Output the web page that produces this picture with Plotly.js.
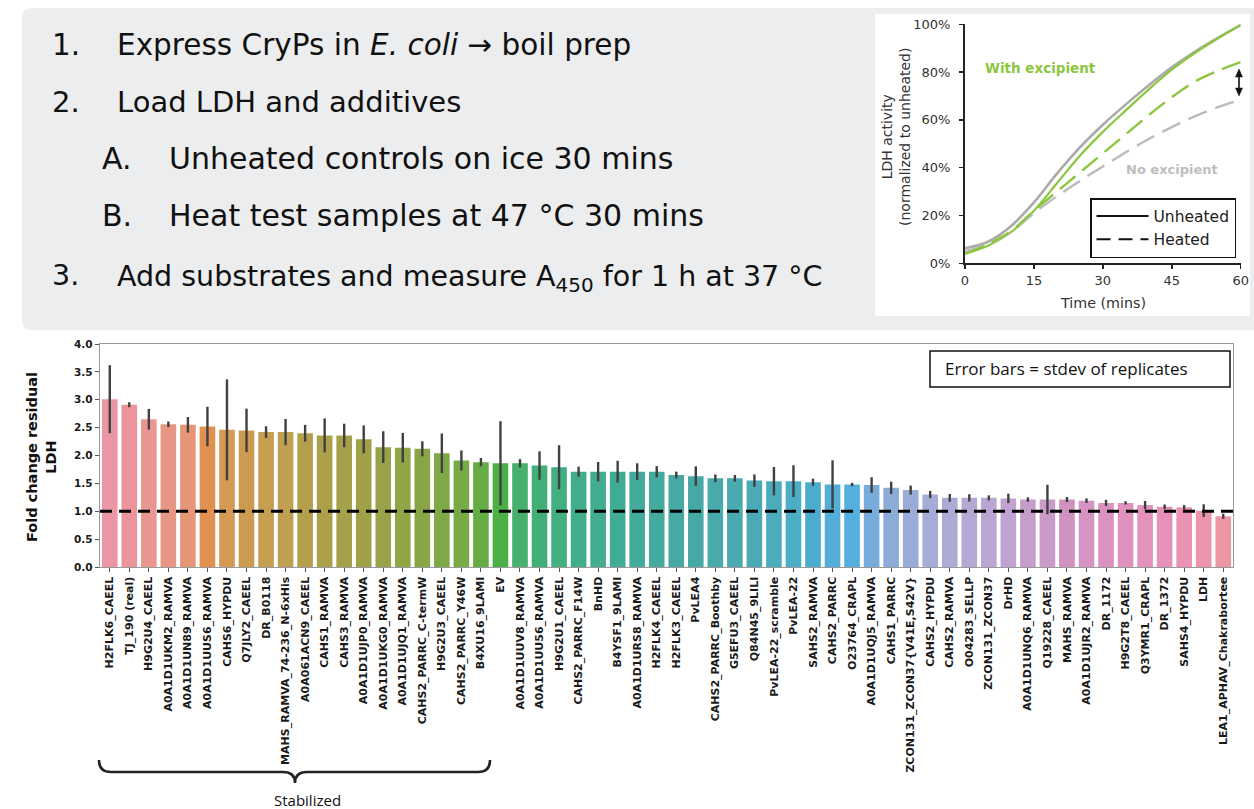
<!DOCTYPE html>
<html><head><meta charset="utf-8">
<script src="https://cdn.plot.ly/plotly-3.0.1.min.js"></script>
<style>html,body{margin:0;padding:0;background:#fff;overflow:hidden}#chart{width:1254px;height:809px}</style>
</head><body><div id="chart"></div>
<script>
// ---------------- data ----------------
const categories = ["H2FLK6_CAEEL","TJ_190 (real)","H9G2U4_CAEEL","A0A1D1UKM2_RAMVA","A0A1D1UN89_RAMVA","A0A1D1UUS6_RAMVA","CAHS6_HYPDU","Q7JLY2_CAEEL","DR_B0118","MAHS_RAMVA_74-236_N-6xHis","A0A061ACN9_CAEEL","CAHS1_RAMVA","CAHS3_RAMVA","A0A1D1UJP0_RAMVA","A0A1D1UKG0_RAMVA","A0A1D1UJQ1_RAMVA","CAHS2_PARRC_C-termW","H9G2U3_CAEEL","CAHS2_PARRC_Y46W","B4XU16_9LAMI","EV","A0A1D1UUV8_RAMVA","A0A1D1UU56_RAMVA","H9G2U1_CAEEL","CAHS2_PARRC_F14W","BnHD","B4YSF1_9LAMI","A0A1D1URS8_RAMVA","H2FLK4_CAEEL","H2FLK3_CAEEL","PvLEA4","CAHS2_PARRC_Boothby","G5EFU3_CAEEL","Q84N45_9LILI","PvLEA-22_scramble","PvLEA-22","SAHS2_RAMVA","CAHS2_PARRC","O23764_CRAPL","A0A1D1UQJ5_RAMVA","CAHS1_PARRC","ZCON131_ZCON37{V41E,S42V}","CAHS2_HYPDU","CAHS2_RAMVA","O04283_SELLP","ZCON131_ZCON37","DrHD","A0A1D1UNQ6_RAMVA","Q19228_CAEEL","MAHS_RAMVA","A0A1D1UJR2_RAMVA","DR_1172","H9G2T8_CAEEL","Q3YMR1_CRAPL","DR_1372","SAHS4_HYPDU","LDH","LEA1_APHAV_Chakrabortee"];
const foldChange = [3.01,2.91,2.65,2.56,2.55,2.52,2.46,2.45,2.42,2.42,2.40,2.36,2.36,2.29,2.15,2.14,2.12,2.04,1.91,1.88,1.86,1.86,1.82,1.79,1.71,1.71,1.71,1.71,1.71,1.65,1.63,1.59,1.59,1.55,1.54,1.54,1.52,1.48,1.48,1.47,1.42,1.38,1.30,1.24,1.24,1.24,1.23,1.21,1.21,1.21,1.19,1.15,1.15,1.11,1.08,1.07,1.01,0.91];
const stdevReplicates = [0.61,0.045,0.185,0.05,0.14,0.355,0.905,0.39,0.105,0.235,0.15,0.305,0.21,0.25,0.285,0.265,0.135,0.355,0.18,0.075,0.755,0.075,0.255,0.395,0.09,0.175,0.195,0.15,0.10,0.06,0.175,0.07,0.06,0.11,0.255,0.285,0.065,0.435,0.03,0.14,0.11,0.08,0.065,0.07,0.065,0.045,0.085,0.04,0.265,0.045,0.04,0.055,0.03,0.075,0.04,0.04,0.115,0.045];
const baselineFold = 1.0;
const yTicksFold = [0,0.5,1,1.5,2,2.5,3,3.5,4];

const timeMins = [0,5,10,15,20,25,30,35,40,45,50,55,60];
const unheatedNoExcipient   = [0.063,0.090,0.155,0.255,0.375,0.485,0.580,0.665,0.745,0.820,0.885,0.943,0.997];
const unheatedWithExcipient = [0.040,0.073,0.130,0.220,0.335,0.450,0.550,0.640,0.728,0.810,0.880,0.940,0.997];
const heatedWithExcipient   = [0.040,0.080,0.135,0.220,0.300,0.380,0.460,0.540,0.620,0.695,0.760,0.805,0.842];
const heatedNoExcipient     = [0.050,0.080,0.130,0.210,0.280,0.345,0.405,0.465,0.520,0.570,0.615,0.653,0.685];
const timeTicks = [0,15,30,45,60];
const pctTicks = [0,0.2,0.4,0.6,0.8,1.0];

const slideSteps = [
  ["1.", "Express CryPs in <i>E. coli</i> \u2192 boil prep", 0],
  ["2.", "Load LDH and additives", 0],
  ["A.", "Unheated controls on ice 30 mins", 1],
  ["B.", "Heat test samples at 47 \u00b0C 30 mins", 1],
  ["3.", "Add substrates and measure A<sub>450</sub> for 1 h at 37 \u00b0C", 0]
];

// ---------------- styles ----------------
const barColors = ["rgb(235,150,165)","rgb(235,148,155)","rgb(233,150,145)","rgb(232,150,132)","rgb(230,150,118)","rgb(225,145,80)","rgb(212,153,82)","rgb(205,155,80)","rgb(197,158,80)","rgb(190,160,80)","rgb(180,160,76)","rgb(172,160,75)","rgb(165,160,74)","rgb(160,160,72)","rgb(153,162,72)","rgb(145,164,70)","rgb(137,166,70)","rgb(127,169,70)","rgb(118,171,70)","rgb(100,172,68)","rgb(75,176,70)","rgb(70,176,108)","rgb(66,175,120)","rgb(65,175,130)","rgb(65,173,138)","rgb(65,172,144)","rgb(65,172,150)","rgb(66,171,155)","rgb(68,170,158)","rgb(70,170,162)","rgb(71,169,166)","rgb(72,170,170)","rgb(73,170,176)","rgb(74,171,182)","rgb(75,172,190)","rgb(76,173,198)","rgb(76,172,205)","rgb(82,174,216)","rgb(85,175,222)","rgb(120,172,218)","rgb(140,172,216)","rgb(152,172,215)","rgb(165,172,215)","rgb(174,170,214)","rgb(180,168,212)","rgb(186,166,210)","rgb(192,163,208)","rgb(197,158,204)","rgb(202,154,200)","rgb(207,145,192)","rgb(213,148,195)","rgb(219,146,192)","rgb(224,145,190)","rgb(228,145,188)","rgb(231,145,184)","rgb(234,146,178)","rgb(235,148,170)","rgb(235,150,162)"];

// ---------------- helpers (page pixel -> paper) ----------------
const W=1254,H=809;
const px=x=>x/W, py=y=>1-y/H;
const P=(x,y)=>px(x).toFixed(5)+','+py(y).toFixed(5);

// ---------------- traces ----------------
const bars = {
  type:'bar', x:categories, y:foldChange, xaxis:'x', yaxis:'y',
  marker:{color:barColors, line:{width:0}},
  error_y:{type:'data', array:stdevReplicates, visible:true, color:'#404040', thickness:2.4, width:0},
  showlegend:false, hoverinfo:'x+y'
};
const gray='#aaaaaa', green='#8cc63f';
const lineBase = {type:'scatter', mode:'lines', xaxis:'x2', yaxis:'y2', showlegend:false, cliponaxis:false, x:timeMins};
const tr1 = Object.assign({}, lineBase, {y:unheatedNoExcipient, line:{color:gray,width:2.6,shape:'spline'}});
const tr2 = Object.assign({}, lineBase, {y:unheatedWithExcipient, line:{color:green,width:2.2,shape:'spline'}});
const tr3 = Object.assign({}, lineBase, {y:heatedNoExcipient, line:{color:'#bbbbbb',width:2.4,shape:'spline',dash:'20px,9px'}});
const tr4 = Object.assign({}, lineBase, {y:heatedWithExcipient, line:{color:green,width:2.4,shape:'spline',dash:'20px,9px'}});
const lg1 = {type:'scatter', mode:'lines', x:[null], y:[null], xaxis:'x2', yaxis:'y2', name:'Unheated', line:{color:'#111',width:2}, showlegend:true};
const lg2 = {type:'scatter', mode:'lines', x:[null], y:[null], xaxis:'x2', yaxis:'y2', name:'Heated', line:{color:'#111',width:2,dash:'14px,8px'}, showlegend:true};

// ---------------- annotations ----------------
const lineY=[45,102,159,216,275];
const lineSize=[29.5,29,30,30,28.5];
const ann=[];
function A(o){ann.push(Object.assign({xref:'paper',yref:'paper',showarrow:false,xanchor:'center',yanchor:'middle'},o));}
slideSteps.forEach((s,i)=>{
  const ind=s[2];
  const sub = s[1].indexOf('<sub>')>=0 ? 3 : 0;
  const f = {family:'DejaVu Sans, Verdana, sans-serif', size:lineSize[i], color:'#111'};
  A({x:px(ind?100:50),y:py(lineY[i]),xanchor:'left',text:s[0],font:f});
  A({x:px(ind?167:115),y:py(lineY[i]+sub),xanchor:'left',text:s[1],font:f});
});
// inset labels
A({x:px(1040),y:py(68),text:'<b>With excipient</b>',font:{family:'DejaVu Sans',size:13.5,color:green}});
A({x:px(1172),y:py(170),text:'<b>No excipient</b>',font:{family:'DejaVu Sans',size:13,color:'#bdbdbd'}});
A({x:px(1103),y:py(303),text:'Time (mins)',font:{family:'DejaVu Sans',size:14.3,color:'#333'}});
A({x:px(896),y:py(137),text:'LDH activity<br>(normalized to unheated)',textangle:-90,font:{family:'DejaVu Sans',size:14,color:'#333'}});
// bar chart labels
A({x:px(41),y:py(457),text:'<b>Fold change residual<br>LDH</b>',textangle:-90,font:{family:'DejaVu Sans',size:14.5,color:'#111'}});
A({x:px(943),y:py(369),xanchor:'left',text:'Error bars = stdev of replicates',font:{family:'Open Sans',size:17,color:'#111'}});
A({x:px(307),y:py(800),text:'Stabilized',font:{family:'Open Sans',size:15,color:'#111'}});

// ---------------- shapes ----------------
const r=10;
const boxPath = 'M '+P(22+r,8)+' L '+P(1270,8)+' L '+P(1270,330)+' L '+P(22+r,330)+' Q '+P(22,330)+' '+P(22,330-r)+' L '+P(22,8+r)+' Q '+P(22,8)+' '+P(22+r,8)+' Z';
const bracePath = 'M '+P(99,760)+' Q '+P(99,772)+' '+P(111,772)+' L '+P(283,772)+' Q '+P(295,772)+' '+P(295,783)+' Q '+P(295,772)+' '+P(307,772)+' L '+P(478,772)+' Q '+P(490,772)+' '+P(490,760);
const upHead = 'M '+P(1239,69)+' L '+P(1242.5,77)+' L '+P(1235.5,77)+' Z';
const dnHead = 'M '+P(1239,96)+' L '+P(1242.5,88)+' L '+P(1235.5,88)+' Z';
const shapes=[
  {type:'path',xref:'paper',yref:'paper',path:boxPath,fillcolor:'#ecedef',line:{width:0},layer:'below'},
  {type:'rect',xref:'paper',yref:'paper',x0:px(875),x1:px(1250),y0:py(316),y1:py(14),fillcolor:'#ffffff',line:{width:0},layer:'below'},
  {type:'line',xref:'x domain',yref:'y',x0:0,x1:1,y0:baselineFold,y1:baselineFold,line:{color:'#000',width:3,dash:'12px,7px'}},
  {type:'rect',xref:'paper',yref:'paper',x0:px(930),x1:px(1230),y0:py(387),y1:py(351),line:{color:'#111',width:1.5},fillcolor:'rgba(255,255,255,0)'},
  {type:'path',xref:'paper',yref:'paper',path:bracePath,line:{color:'#222',width:2.6}},
  {type:'line',xref:'paper',yref:'paper',x0:px(1239),x1:px(1239),y0:py(75),y1:py(90),line:{color:'#111',width:1.6}},
  {type:'path',xref:'paper',yref:'paper',path:upHead,fillcolor:'#111',line:{color:'#111',width:0.5}},
  {type:'path',xref:'paper',yref:'paper',path:dnHead,fillcolor:'#111',line:{color:'#111',width:0.5}}
];

const layout = {
  width:W, height:H, margin:{l:0,r:0,t:0,b:0,pad:0},
  paper_bgcolor:'#ffffff', plot_bgcolor:'rgba(0,0,0,0)',
  bargap:0.2, showlegend:true,
  xaxis:{domain:[px(100),px(1233)],anchor:'y',type:'category',range:[-0.5,categories.length-0.5],
    tickangle:-90,tickfont:{family:'DejaVu Sans',size:11,weight:'bold',color:'#1a1a1a'},
    ticks:'outside',ticklen:4,tickcolor:'#555',showline:true,mirror:true,linecolor:'#999',linewidth:1.3,
    showgrid:false,zeroline:false,automargin:false,fixedrange:true},
  yaxis:{domain:[py(567),py(344)],anchor:'x',range:[0,4],tickvals:yTicksFold,tickformat:'.1f',
    tickfont:{family:'DejaVu Sans',size:10.5,weight:'bold',color:'#1a1a1a'},
    ticks:'outside',ticklen:4,tickcolor:'#555',showline:true,mirror:true,linecolor:'#999',linewidth:1.3,
    showgrid:false,zeroline:false,automargin:false,fixedrange:true},
  xaxis2:{domain:[px(965),px(1240.7)],anchor:'y2',range:[0,60],tickvals:timeTicks,
    tickfont:{family:'DejaVu Sans',size:13,color:'#333'},ticks:'outside',ticklen:4,tickwidth:1.5,tickcolor:'#222',
    showline:true,linecolor:'#222',linewidth:2,showgrid:false,zeroline:false,automargin:false,fixedrange:true},
  yaxis2:{domain:[py(263.3),py(24.3)],anchor:'x2',range:[0,1],tickvals:pctTicks,tickformat:'.0%',
    tickfont:{family:'DejaVu Sans',size:13,color:'#333'},ticks:'outside',ticklen:4,tickwidth:1.5,tickcolor:'#222',
    showline:true,linecolor:'#222',linewidth:2,showgrid:false,zeroline:false,automargin:false,fixedrange:true,ticklabelstandoff:6},
  legend:{x:px(1090),y:py(198),xanchor:'left',yanchor:'top',bgcolor:'rgba(255,255,255,0)',bordercolor:'#111',borderwidth:1.5,
    font:{family:'DejaVu Sans',size:15.5,color:'#222'},itemwidth:52,tracegroupgap:0},
  annotations:ann, shapes:shapes
};
Plotly.newPlot('chart',[bars,tr1,tr2,tr3,tr4,lg1,lg2],layout,{displayModeBar:false,staticPlot:true});
</script></body></html>
